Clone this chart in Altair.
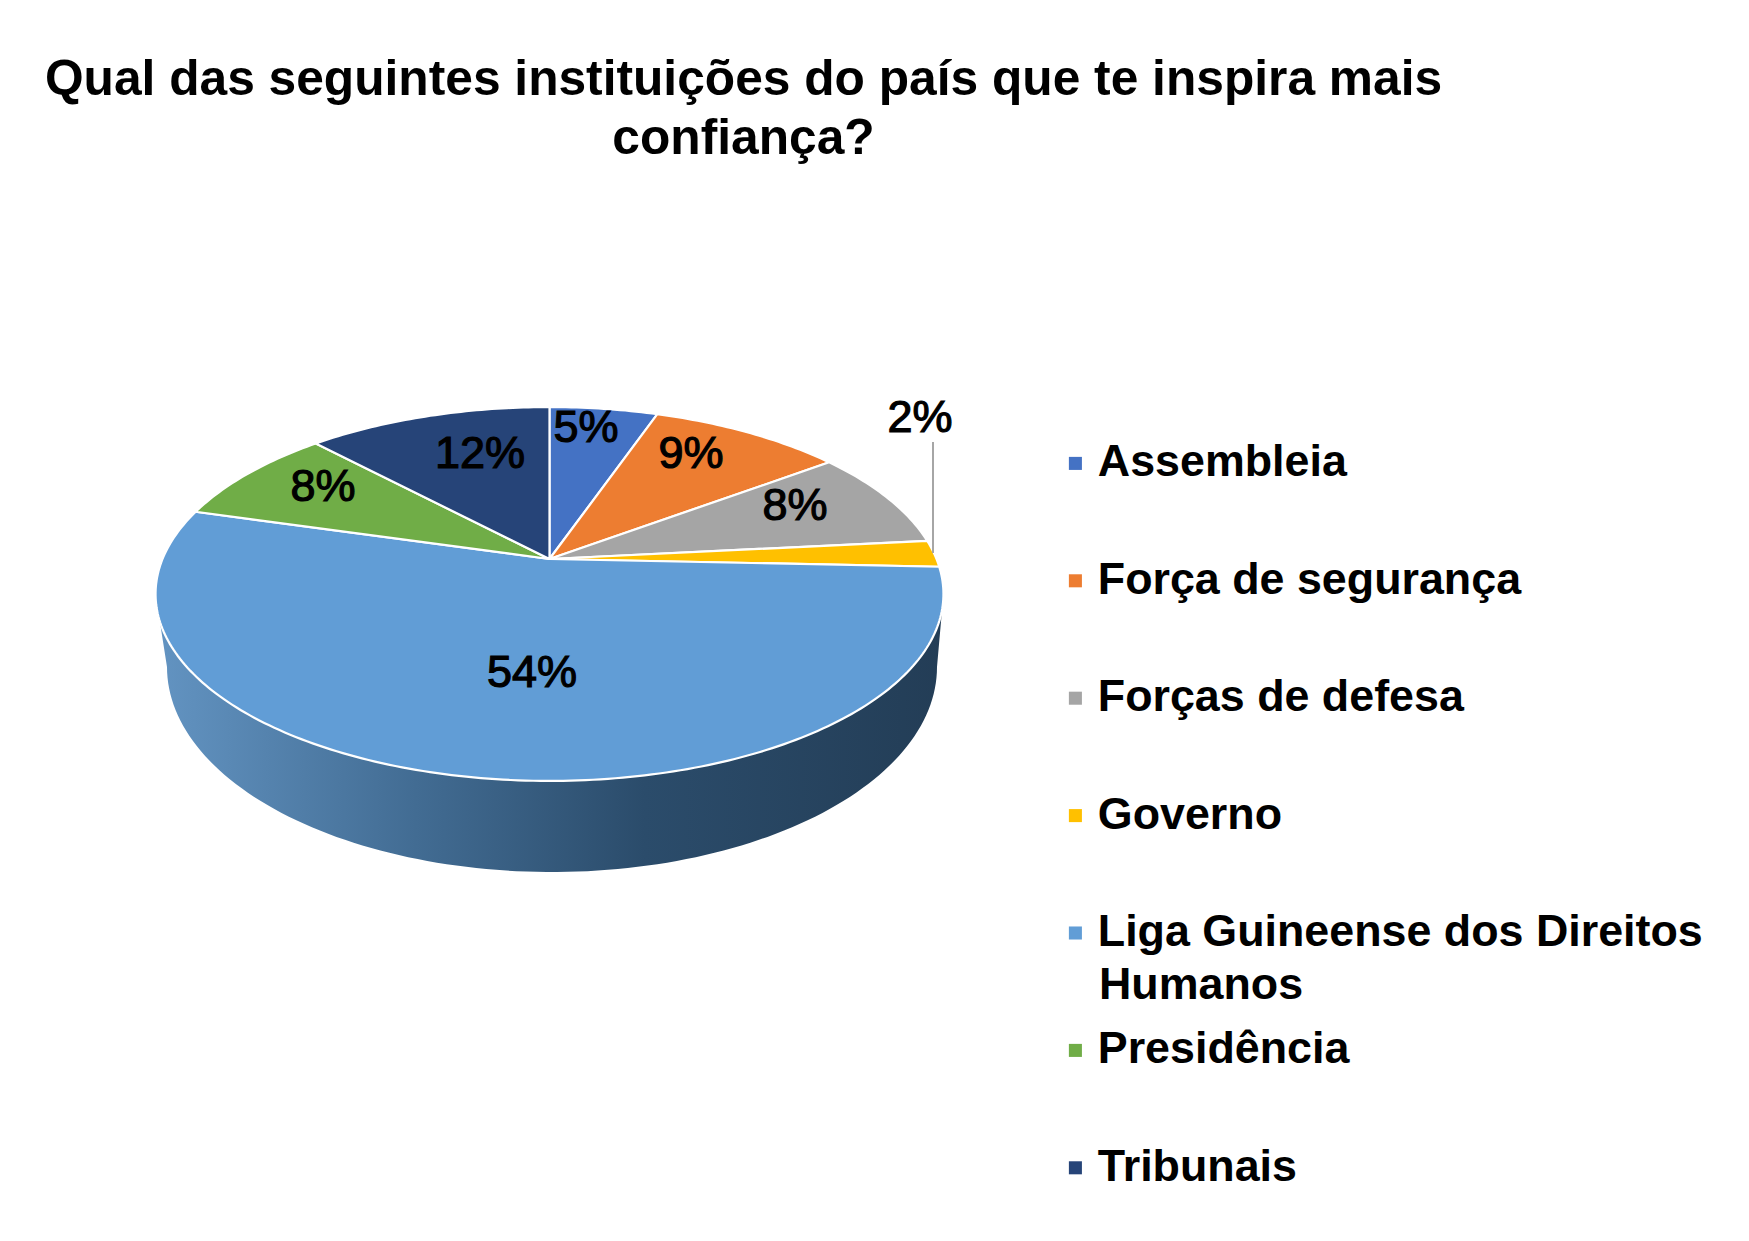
import numpy as np
import pandas as pd
import altair as alt

CATEGORIES = ["Assembleia", "Força de segurança", "Forças de defesa", "Governo",
              "Liga Guineense dos Direitos Humanos", "Presidência", "Tribunais"]
SHARES = [5.3, 9.5, 8.5, 2.3, 53.6, 8.5, 12.0]
LABELS = ["5%", "9%", "8%", "2%", "54%", "8%", "12%"]
COLORS = ["#4472C4", "#ED7D31", "#A5A5A5", "#FFC000", "#619DD6", "#70AD47", "#264478"]
TITLE = ["Qual das seguintes instituições do país que te inspira mais", "confiança?"]

# pixel-like plot units: x to the right, y downwards
CX, CY_APEX, A, B, K = 549.5, 559.0, 387.0, 180.4, 0.187
LABEL_X = [586, 691, 795, 920, 532, 323, 480]
LABEL_Y = [428, 454, 506, 418, 673, 487, 454]


def rim(frac):
    """Project a position round the pie (0-1, clockwise from the top) on the tilted disc."""
    t = np.pi / 2 - 2 * np.pi * np.asarray(frac)
    w = 1 + K * np.sin(t)
    return CX + A * np.cos(t) / w, CY_APEX - B * np.sin(t) / w


shares = np.array(SHARES) / sum(SHARES)
edges = np.concatenate([[0], np.cumsum(shares)])
rows = []
for i, cat in enumerate(CATEGORIES):
    f = np.linspace(edges[i], edges[i + 1], max(8, int(shares[i] * 400)))
    xs, ys = rim(f)
    xs = [CX] + list(xs) + [CX]
    ys = [CY_APEX] + list(ys) + [CY_APEX]
    for j, (x, y) in enumerate(zip(xs, ys)):
        rows.append({"cat": cat, "i": j, "x": float(x), "y": float(y)})
slices = pd.DataFrame(rows)

# side wall: lower part of the top rim between its widest points, then the lower rim back
f_top = np.linspace(0.28, 0.72, 120)
tx, ty = rim(f_top)
LOW_CX, LOW_CY, LOW_A, LOW_B = 552.0, 667.0, 385.0, 205.0
ang = np.linspace(np.pi, 0, 120)
lx = LOW_CX + LOW_A * np.cos(ang)
ly = LOW_CY + LOW_B * np.sin(ang)
side = pd.DataFrame({
    "x": np.concatenate([tx, lx]),
    "y": np.concatenate([ty, ly]),
})
side["i"] = np.arange(len(side))

W, P = 1733, 180
H = 1225 - P
x_scale = alt.Scale(domain=[8, 8 + W], nice=False, zero=False)
y_scale = alt.Scale(domain=[8 + P + H, 8 + P], nice=False, zero=False)
X = alt.X("x:Q", scale=x_scale, axis=None)
Y = alt.Y("y:Q", scale=y_scale, axis=None)

side_grad = alt.Gradient(
    gradient="linear", x1=0, x2=1, y1=0, y2=0,
    stops=[alt.GradientStop(offset=0, color="#6394C2"),
           alt.GradientStop(offset=0.33, color="#426C93"),
           alt.GradientStop(offset=0.62, color="#2B4C6B"),
           alt.GradientStop(offset=1, color="#233D56")],
)
side_layer = alt.Chart(side).mark_line(fill=side_grad, strokeWidth=0).encode(
    x=X, y=Y, order="i:Q")

legend = alt.Legend(
    title=None, orient="none", legendX=1045, legendY=253,
    symbolType="square", symbolSize=170, symbolStrokeWidth=0,
    labelFont="Liberation Sans", labelFontSize=44.8, labelFontWeight="bold", labelColor="black",
    labelOffset=0, rowPadding=71.4, labelLimit=800, padding=0,
    labelExpr="datum.label == 'Liga Guineense dos Direitos Humanos' ? "
              "'Liga Guineense dos Direitos' : datum.label",
)
slice_layer = alt.Chart(slices).mark_line(stroke="white", strokeWidth=2.2).encode(
    x=X, y=Y, order="i:Q",
    fill=alt.Fill("cat:N", sort=CATEGORIES,
                  scale=alt.Scale(domain=CATEGORIES, range=COLORS), legend=legend),
)

leader_df = pd.DataFrame({"x": [933.0], "y": [442.0], "y2": [553.0]})
leader = alt.Chart(leader_df).mark_rule(color="#A6A6A6", strokeWidth=2).encode(
    x=X, y=Y, y2="y2:Q")

labels_df = pd.DataFrame({"x": LABEL_X, "y": LABEL_Y, "t": LABELS})
labels = alt.Chart(labels_df).mark_text(
    font="Liberation Sans", fontSize=45, color="black", stroke="black", strokeWidth=1.2,
    align="center", baseline="middle").encode(x=X, y=Y, text="t:N")

wrap_df = pd.DataFrame({"x": [1099.0], "y": [986.0], "t": ["Humanos"]})
wrap = alt.Chart(wrap_df).mark_text(
    font="Liberation Sans", fontSize=44.8, fontWeight="bold", color="black",
    align="left", baseline="middle").encode(x=X, y=Y, text="t:N")

chart = alt.layer(side_layer, slice_layer, leader, labels, wrap).properties(
    width=W, height=H,
    padding={"left": 0, "top": P, "right": 0, "bottom": 0},
    autosize=alt.AutoSizeParams(type="none"),
    title=alt.TitleParams(text=TITLE, font="Liberation Sans", fontSize=49.7, fontWeight="bold",
                          color="black", lineHeight=59, anchor="middle", dx=-131, offset=23),
).configure(view={"stroke": None}, style={"guide-label": {"lineHeight": 52}, "cell": {"stroke": None}})

chart.save("out.html", embed_options={"renderer": "svg", "actions": False})
